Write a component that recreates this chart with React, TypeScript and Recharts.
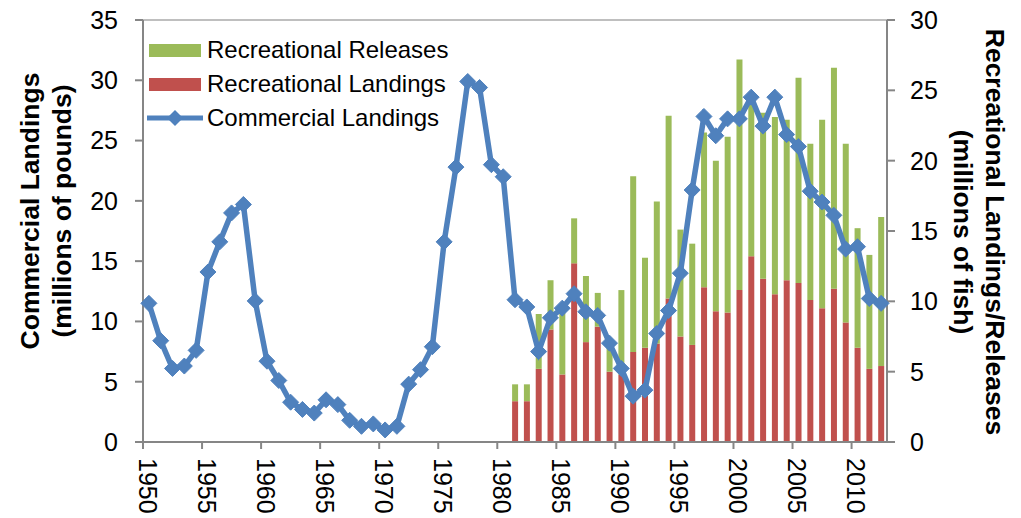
import { Bar, ComposedChart, Line, ReferenceLine, XAxis, YAxis } from "recharts";

const YEARS = [
  1950, 1951, 1952, 1953, 1954, 1955, 1956, 1957, 1958, 1959,
  1960, 1961, 1962, 1963, 1964, 1965, 1966, 1967, 1968, 1969,
  1970, 1971, 1972, 1973, 1974, 1975, 1976, 1977, 1978, 1979,
  1980, 1981, 1982, 1983, 1984, 1985, 1986, 1987, 1988, 1989,
  1990, 1991, 1992, 1993, 1994, 1995, 1996, 1997, 1998, 1999,
  2000, 2001, 2002, 2003, 2004, 2005, 2006, 2007, 2008, 2009,
  2010, 2011, 2012,
];

// millions of pounds
const COMMERCIAL = [
  11.5, 8.4, 6.1, 6.3, 7.6, 14.1, 16.6, 19.0, 19.7, 11.7,
  6.7, 5.1, 3.3, 2.7, 2.4, 3.5, 3.1, 1.8, 1.3, 1.5,
  1.0, 1.3, 4.8, 6.0, 7.9, 16.6, 22.8, 29.9, 29.4, 23.0,
  22.0, 11.8, 11.2, 7.5, 10.3, 11.1, 12.3, 10.8, 10.5, 8.2,
  6.1, 3.8, 4.3, 9.0, 10.9, 14.0, 20.9, 27.0, 25.4, 26.8,
  26.8, 28.6, 26.2, 28.6, 25.5, 24.5, 20.8, 19.9, 18.8, 16.0,
  16.2, 11.9, 11.5,
];

// recreational series start in 1981, millions of fish
const REC_START = 1981;
const REC_LANDINGS = [
  2.9, 2.9, 5.2, 8.0, 4.8, 12.7, 7.1, 8.2, 5.0,
  4.8, 6.4, 6.7, 7.0, 10.2, 7.5, 6.9, 11.0, 9.3, 9.2,
  10.8, 13.2, 11.6, 10.5, 11.5, 11.3, 10.1, 9.5, 10.9, 8.5,
  6.7, 5.2, 5.4,
];
const REC_RELEASES = [
  1.2, 1.2, 3.9, 3.5, 5.0, 3.2, 4.7, 2.4, 2.0,
  6.0, 12.5, 6.4, 10.1, 13.0, 7.6, 7.2, 11.0, 10.7, 12.5,
  16.4, 11.3, 11.8, 12.6, 11.4, 14.6, 11.1, 13.4, 15.7, 12.7,
  8.5, 8.1, 10.6,
];

const X_TICKS = [1950, 1955, 1960, 1965, 1970, 1975, 1980, 1985, 1990, 1995, 2000, 2005, 2010];
const LEFT_TICKS = [0, 5, 10, 15, 20, 25, 30, 35];
const RIGHT_TICKS = [0, 5, 10, 15, 20, 25, 30];

const GREEN = "#9BBB59";
const RED = "#C0504D";
const BLUE = "#4F81BD";
const AXIS = "#868686";
const HALF_BAND = 744 / YEARS.length / 2;

const data = YEARS.map((year, i) => {
  const j = year - REC_START;
  return {
    year,
    commercial: COMMERCIAL[i],
    landings: j >= 0 ? REC_LANDINGS[j] : null,
    releases: j >= 0 ? REC_RELEASES[j] : null,
  };
});

function XTick({ x, y, payload }: any) {
  return (
    <g>
      <line x1={x - HALF_BAND} x2={x - HALF_BAND} y1={y} y2={y + 7} stroke={AXIS} strokeWidth={2} />
      <text
        transform={`translate(${x - 1},${y + 16}) rotate(90)`}
        textAnchor="start"
        dominantBaseline="central"
        fontSize={25}
        fill="#000"
      >
        {payload.value}
      </text>
    </g>
  );
}

function Diamond({ cx, cy }: any) {
  if (cx == null || cy == null) return null;
  const r = 8;
  return <path d={`M${cx},${cy - r}L${cx + r},${cy}L${cx},${cy + r}L${cx - r},${cy}Z`} fill={BLUE} stroke={BLUE} />;
}

function AxisTitle({ tLines, tXs, tY, tRot }: any) {
  return (
    <g>
      {tLines.map((t: string, i: number) => (
        <text
          key={t}
          transform={`translate(${tXs[i]},${tY}) rotate(${tRot})`}
          textAnchor="middle"
          dominantBaseline="central"
          fontSize={26.5}
          fontWeight="bold"
          fill="#000"
        >
          {t}
        </text>
      ))}
    </g>
  );
}

function ChartLegend() {
  const row = { display: "flex", alignItems: "center", height: 34, fontSize: 24, color: "#000", whiteSpace: "nowrap" } as const;
  const swatch = (c: string) => <span style={{ display: "inline-block", width: 52, height: 13, background: c, marginRight: 6 }} />;
  return (
    <div style={{ position: "absolute", left: 149, top: 33 }}>
      <div style={row}>{swatch(GREEN)}Recreational Releases</div>
      <div style={row}>{swatch(RED)}Recreational Landings</div>
      <div style={row}>
        <svg width={56} height={18} style={{ marginLeft: -2, marginRight: 4 }}>
          <line x1={0} x2={56} y1={9} y2={9} stroke={BLUE} strokeWidth={5} />
          <path d="M28,1L36,9L28,17L20,9Z" fill={BLUE} />
        </svg>
        Commercial Landings
      </div>
    </div>
  );
}

export default function App() {
  return (
    <div style={{ position: "absolute", left: 0, top: 0, width: 1021, height: 518, background: "#fff", fontFamily: "'Liberation Sans', Arial, sans-serif" }}>
      <ComposedChart width={1021} height={518} data={data} margin={{ top: 20, right: 0, bottom: 0, left: 0 }}>
        <XAxis
          dataKey="year"
          type="number"
          domain={[1949.5, 2012.5]}
          ticks={X_TICKS}
          interval={0}
          height={76}
          tickSize={0}
          tickMargin={0}
          tickLine={false}
          tick={<XTick />}
          axisLine={{ stroke: AXIS, strokeWidth: 2 }}
        />
        <YAxis
          yAxisId="left"
          orientation="left"
          width={143}
          domain={[0, 35]}
          ticks={LEFT_TICKS}
          interval={0}
          tickSize={8}
          tickMargin={17}
          tick={{ fontSize: 25, fill: "#000" }}
          tickLine={{ stroke: AXIS, strokeWidth: 2 }}
          axisLine={{ stroke: AXIS, strokeWidth: 2 }}
          label={<AxisTitle tLines={["Commercial Landings", "(millions of pounds)"]} tXs={[30, 62]} tY={211} tRot={-90} />}
        />
        <YAxis
          yAxisId="right"
          orientation="right"
          width={134}
          domain={[0, 30]}
          ticks={RIGHT_TICKS}
          interval={0}
          tickSize={8}
          tickMargin={15}
          tick={{ fontSize: 25, fill: "#000" }}
          tickLine={{ stroke: AXIS, strokeWidth: 2 }}
          axisLine={{ stroke: AXIS, strokeWidth: 2 }}
          label={<AxisTitle tLines={["Recreational Landings/Releases", "(millions of fish)"]} tXs={[995, 963]} tY={232} tRot={90} />}
        />
        <ReferenceLine yAxisId="left" y={35} stroke="#BFBFBF" strokeWidth={2} />
        <Bar yAxisId="right" dataKey="landings" stackId="rec" fill={RED} barSize={6} isAnimationActive={false} />
        <Bar yAxisId="right" dataKey="releases" stackId="rec" fill={GREEN} barSize={6} isAnimationActive={false} />
        <Line
          yAxisId="left"
          dataKey="commercial"
          stroke={BLUE}
          strokeWidth={5.5}
          dot={<Diamond />}
          activeDot={false}
          isAnimationActive={false}
        />
      </ComposedChart>
      <ChartLegend />
    </div>
  );
}
